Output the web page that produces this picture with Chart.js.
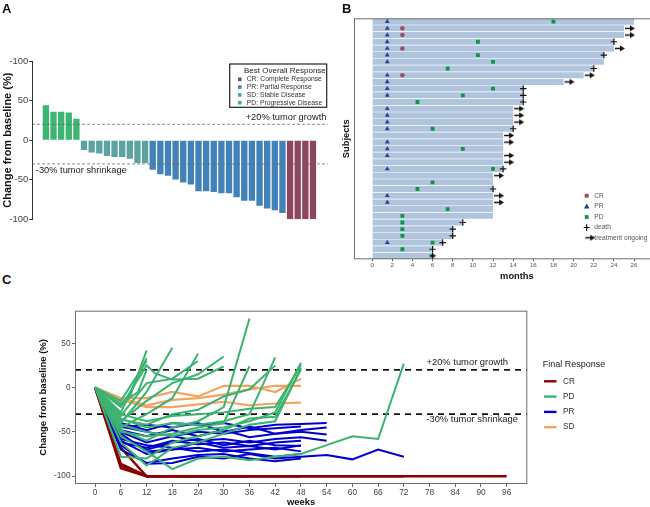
<!DOCTYPE html>
<html>
<head>
<meta charset="utf-8">
<title>Response panels</title>
<script src="https://cdn.jsdelivr.net/npm/chart.js@4.4.1/dist/chart.umd.min.js"></script>
<style>
  html, body { margin: 0; padding: 0; background: #fff; }
  #page { position: relative; width: 650px; height: 507px; overflow: hidden; background: #fff; }
  #page canvas { position: absolute; }
  .panel-tag { position: absolute; font: bold 13px "Liberation Sans", Arial, sans-serif; color: #111; line-height: 15px; }
</style>
</head>
<body>
<div id="page">
  <canvas id="waterfallChart" width="340" height="240" style="left:0px;top:0px"></canvas>
  <canvas id="swimmerChart" width="350" height="292" style="left:335px;top:0px"></canvas>
  <canvas id="spiderChart" width="650" height="218" style="left:0px;top:290px"></canvas>
  <div class="panel-tag" style="left:2px;top:1px">A</div>
  <div class="panel-tag" style="left:342px;top:1px">B</div>
  <div class="panel-tag" style="left:2px;top:272px">C</div>
</div>
<script>
// ---- panel A: best change from baseline per patient
const waterfallChange = [44, 36, 36, 35, 27,
  -12.6, -15.5, -16.8, -20, -21.4, -21.4, -23.5, -29, -29,
  -37.4, -43, -45, -49.6, -53.4, -56, -64.7, -64.7, -65.5, -67, -67, -72, -76.5, -76.5, -83, -86.5, -88.7, -92,
  -100, -100, -100, -100];
const waterfallResponse = ['PD', 'PD', 'PD', 'PD', 'PD',
  'SD', 'SD', 'SD', 'SD', 'SD', 'SD', 'SD', 'SD', 'SD',
  'PR', 'PR', 'PR', 'PR', 'PR', 'PR', 'PR', 'PR', 'PR', 'PR', 'PR', 'PR', 'PR', 'PR', 'PR', 'PR', 'PR', 'PR',
  'CR', 'CR', 'CR', 'CR'];
const waterfallTicks = [-100, -50, 0, 50, 100];
const bestResponseLabels = ['CR: Complete Response', 'PR: Partial Response', 'SD: Stable Disease', 'PD: Progressive Disease'];

// ---- panel B: time on study (months) per subject, top row first
const subjectMonths = [26, 25, 25, 24, 24, 23, 23, 22, 21, 19, 15, 15, 15, 14, 14, 14, 14, 13, 13, 13, 13, 13, 13,
  12, 12, 12, 12, 12, 12, 12, 9, 8, 8, 7, 6, 6];
const prRows = [1, 2, 3, 4, 5, 6, 7, 9, 10, 11, 12, 14, 15, 16, 17, 19, 20, 21, 23, 27, 28, 34];
const prMonths = [1.5, 1.5, 1.5, 1.5, 1.5, 1.5, 1.5, 1.5, 1.5, 1.5, 1.5, 1.5, 1.5, 1.5, 1.5, 1.5, 1.5, 1.5, 1.5, 1.5, 1.5, 1.5];
const crRows = [2, 3, 5, 9];
const crMonths = [3, 3, 3, 3];
const pdRows = [1, 4, 6, 7, 8, 11, 12, 13, 17, 20, 23, 25, 26, 29, 30, 31, 32, 33, 34, 35, 36];
const pdMonths = [18, 10.5, 10.5, 12, 7.5, 12, 9, 4.5, 6, 9, 12, 6, 4.5, 7.5, 3, 3, 3, 3, 6, 3, 6];
const deathRows = [4, 6, 8, 11, 12, 13, 17, 23, 26, 31, 32, 33, 34, 35, 36];
const deathMonths = [24, 23, 22, 15, 15, 15, 14, 13, 12, 9, 8, 8, 7, 6, 6];
const ongoingRows = [2, 3, 5, 9, 10, 14, 15, 16, 18, 19, 21, 22, 24, 27, 28];
const ongoingMonths = [25, 25, 24, 21, 19, 14, 14, 14, 13, 13, 13, 13, 12, 12, 12];
const monthTicks = [0, 2, 4, 6, 8, 10, 12, 14, 16, 18, 20, 22, 24, 26];

// ---- panel C: change from baseline (%) over weeks, [week, change]
const crLines = [
  [[0, 0], [6, -88], [12, -100], [96, -100]],
  [[0, 0], [6, -91], [12, -100], [48, -100]],
  [[0, 0], [6, -68], [12, -100], [72, -100]],
  [[0, 0], [6, -86], [12, -100], [36, -100]]
];
const pdLines = [
  [[0, 0], [6, -20], [8, -12], [12, 42]],
  [[0, 0], [6, -28], [12, 33]],
  [[0, 0], [6, -22], [12, 25], [14, 16], [18, 9], [24, 10], [30, 24]],
  [[0, 0], [6, -40], [12, -5], [18, 45]],
  [[0, 0], [6, -32], [12, 5], [18, 10], [24, 30]],
  [[0, 0], [6, -45], [12, -30], [18, -12], [24, 38]],
  [[0, 0], [6, -38], [12, -15], [18, 5], [24, 15], [30, 35]],
  [[0, 0], [6, -48], [12, -60], [18, -45], [24, -38], [30, -22], [36, 78]],
  [[0, 0], [6, -35], [12, -45], [18, -40], [24, -42], [30, -38], [36, -30], [42, 34]],
  [[0, 0], [6, -42], [12, -50], [18, -55], [24, -48], [30, -45], [36, -38], [42, -28], [48, 28]],
  [[0, 0], [6, -30], [12, -38], [18, -32], [24, -30], [30, -28], [36, -24], [42, -22], [48, 25]],
  [[0, 0], [6, -62], [12, -88], [18, -68], [24, -62], [30, -52], [36, -42], [42, -38], [48, 22]],
  [[0, 0], [6, -50], [12, -55], [18, -52], [24, -45], [30, -40], [36, 24]],
  [[0, 0], [6, -36], [12, -42], [18, -30], [24, -25], [30, -10], [36, -2], [42, 25]],
  [[0, 0], [6, -78], [12, -80], [18, -62], [24, -55], [30, -48], [36, -35], [42, -33], [48, 20]],
  [[0, 0], [6, -15], [12, 30]],
  [[0, 0], [6, -18], [10, -5], [12, 20]],
  [[0, 0], [6, -55], [12, -72], [18, -92], [24, -80], [30, -78], [36, -82], [42, -78], [48, -75], [54, -65], [60, -55], [66, -58], [72, 27]]
];
const prLines = [
  [[0, 0], [6, -40], [12, -48], [18, -40], [24, -42], [30, -40], [36, -46], [42, -42], [48, -41], [54, -40]],
  [[0, 0], [6, -45], [12, -42], [18, -45], [24, -40], [30, -50], [36, -44], [42, -52], [48, -48], [54, -45]],
  [[0, 0], [6, -48], [12, -55], [18, -48], [24, -55], [30, -48], [36, -56], [42, -52], [48, -50], [54, -53]],
  [[0, 0], [6, -50], [12, -62], [18, -55], [24, -60], [30, -58], [36, -62], [42, -58], [48, -56], [54, -60]],
  [[0, 0], [6, -55], [12, -70], [18, -62], [24, -58], [30, -65], [36, -60], [42, -65], [48, -66]],
  [[0, 0], [6, -60], [12, -75], [18, -70], [24, -68], [30, -72], [36, -70], [42, -68], [48, -72]],
  [[0, 0], [6, -65], [12, -86], [18, -85], [24, -78], [30, -80], [36, -75], [42, -80], [48, -78], [54, -76], [60, -81], [66, -70], [72, -78]],
  [[0, 0], [6, -52], [12, -72], [18, -70], [24, -62], [30, -68], [36, -66], [42, -70], [48, -65]],
  [[0, 0], [6, -62], [12, -68], [18, -60], [24, -64], [30, -62], [36, -66], [42, -62], [48, -60]],
  [[0, 0], [6, -58], [12, -65], [18, -68], [24, -72], [30, -70], [36, -74], [42, -78], [48, -75]],
  [[0, 0], [6, -70], [12, -85], [18, -80], [24, -76], [30, -75], [36, -80], [42, -83], [48, -80]],
  [[0, 0], [6, -44], [12, -50], [18, -55], [24, -50], [30, -52], [36, -48], [42, -46], [48, -44]]
];
const sdLines = [
  [[0, 0], [6, -12], [12, -12], [18, -5], [24, -10], [30, 2], [36, 2], [42, -5], [48, 10]],
  [[0, 0], [6, -12], [12, -20], [18, -14], [24, -12], [30, -8], [36, -2], [42, 2], [48, 2]],
  [[0, 0], [6, -14], [12, -22], [18, -22], [24, -19], [30, -16], [36, -20], [42, -18], [48, -17]]
];
const weekTicks = [0, 6, 12, 18, 24, 30, 36, 42, 48, 54, 60, 66, 72, 78, 84, 90, 96];
const spiderTicks = [-100, -50, 0, 50];
const finalResponseLabels = ['CR', 'PD', 'PR', 'SD'];
const growthCut = 20;
const shrinkCut = -30;

const FONT = '"Liberation Sans", Arial, sans-serif';
Chart.defaults.font.family = FONT;
Chart.defaults.animation = false;

const waterfallColors = { CR: '#8c4660', PR: '#4282b8', SD: '#5ba3a0', PD: '#3db575' };
const spiderColors = { CR: '#8b0000', PD: '#3cb371', PR: '#0000cd', SD: '#f4a460' };
const marker = { CR: '#9c5068', PR: '#2b3f9a', PD: '#0a9648' };

//draw a plain rectangle round the plot area
const panelBox = {
  id: 'panelBox',
  afterDraw(chart) {
    const a = chart.chartArea, ctx = chart.ctx;
    ctx.save();
    ctx.strokeStyle = '#6e6e6e';
    ctx.lineWidth = 1;
    ctx.strokeRect(a.left + 0.5, a.top + 0.5, a.right - a.left - 1, a.bottom - a.top - 1);
    ctx.restore();
  }
};

// ================= A: waterfall =================
const waterfallPlugin = {
  id: 'waterfallText',
  afterDraw(chart) {
    const ctx = chart.ctx, a = chart.chartArea, y = chart.scales.y;
    ctx.save();
    ctx.fillStyle = '#222';
    ctx.textBaseline = 'middle';
    ctx.font = '9.3px ' + FONT;
    ctx.textAlign = 'right';
    ctx.fillText('+20% tumor growth', a.right - 1.5, y.getPixelForValue(growthCut) - 6.5);
    ctx.textAlign = 'left';
    ctx.fillText('-30% tumor shrinkage', a.left + 3.5, y.getPixelForValue(shrinkCut) + 6.3);

    // legend box
    const lx = a.right - 98.3, ly = a.top + 3;
    ctx.fillStyle = '#fff';
    ctx.fillRect(lx, ly, 97, 43.3);
    ctx.strokeStyle = '#222';
    ctx.lineWidth = 1.2;
    ctx.strokeRect(lx, ly, 97, 43.3);
    ctx.fillStyle = '#222';
    ctx.font = '8px ' + FONT;
    ctx.fillText('Best Overall Response', lx + 14.3, ly + 6.3);
    ctx.font = '6.8px ' + FONT;
    ['CR', 'PR', 'SD', 'PD'].forEach((k, i) => {
      const ry = ly + 15.3 + i * 7.8;
      ctx.fillStyle = waterfallColors[k];
      ctx.fillRect(lx + 8.3, ry - 1.8, 3.6, 3.6);
      ctx.fillStyle = '#333';
      ctx.fillText(bestResponseLabels[i], lx + 17, ry);
    });
    ctx.restore();
  }
};

const waterfallX = { min: -0.78, max: 37.97 };
new Chart(document.getElementById('waterfallChart'), {
  type: 'bar',
  data: {
    datasets: [
      {
        type: 'line',
        data: [{ x: waterfallX.min, y: growthCut }, { x: waterfallX.max, y: growthCut }],
        borderColor: '#666', borderWidth: 0.9, borderDash: [2.5, 2.5], pointRadius: 0, order: 1
      },
      {
        type: 'line',
        data: [{ x: waterfallX.min, y: shrinkCut }, { x: waterfallX.max, y: shrinkCut }],
        borderColor: '#666', borderWidth: 0.9, borderDash: [2.5, 2.5], pointRadius: 0, order: 1
      },
      {
        type: 'bar',
        data: waterfallChange.map((v, i) => ({ x: i + 1, y: v })),
        backgroundColor: waterfallResponse.map(r => waterfallColors[r]),
        barPercentage: 0.83,
        categoryPercentage: 1,
        order: 2
      }
    ]
  },
  options: {
    responsive: false,
    devicePixelRatio: 1,
    layout: { padding: { left: 0, top: 61, right: 12, bottom: 20.7 } },
    plugins: { legend: { display: false }, tooltip: { enabled: false } },
    scales: {
      x: { type: 'linear', min: waterfallX.min, max: waterfallX.max, offset: false, display: false },
      y: {
        type: 'linear', min: -100, max: 100,
        afterBuildTicks: s => { s.ticks = waterfallTicks.map(v => ({ value: v })); },
        afterFit: s => { s.width = 32.3; },
        ticks: {
          color: '#444', font: { size: 9.5 }, padding: 1,
          callback: v => (v === 100 ? '-100' : String(v))
        },
        grid: { drawOnChartArea: false, tickLength: 3, color: '#333' },
        border: { display: true, color: '#333', width: 1 },
        title: { display: true, text: 'Change from baseline (%)', color: '#111', font: { size: 11, weight: 'bold' }, padding: { top: 1, bottom: 0 } }
      }
    }
  },
  plugins: [waterfallPlugin]
});

// ================= B: swimmer =================
function arrowImage() {
  // transparent left half so the point sits at the bar end and the arrow starts just after it
  const c = document.createElement('canvas');
  c.width = 24; c.height = 7;
  const g = c.getContext('2d');
  g.strokeStyle = '#111';
  g.lineWidth = 1.5;
  g.beginPath(); g.moveTo(13, 3.5); g.lineTo(19, 3.5); g.stroke();
  g.fillStyle = '#111';
  g.beginPath(); g.moveTo(18, 0.5); g.lineTo(23, 3.5); g.lineTo(18, 6.5); g.closePath(); g.fill();
  return c;
}
const ongoingArrow = arrowImage();

const swimmerLegend = {
  id: 'swimmerLegend',
  afterDraw(chart) {
    const ctx = chart.ctx;
    const mx = 251.7, tx = 259.3;
    const ys = [195.7, 206.4, 217, 227.5, 237.8];
    ctx.save();
    ctx.fillStyle = marker.CR;
    ctx.beginPath(); ctx.arc(mx, ys[0], 2.3, 0, Math.PI * 2); ctx.fill();
    ctx.fillStyle = marker.PR;
    ctx.beginPath(); ctx.moveTo(mx, ys[1] - 2.8); ctx.lineTo(mx + 2.8, ys[1] + 2); ctx.lineTo(mx - 2.8, ys[1] + 2); ctx.closePath(); ctx.fill();
    ctx.fillStyle = marker.PD;
    ctx.fillRect(mx - 1.9, ys[2] - 1.9, 3.8, 3.8);
    ctx.strokeStyle = '#111'; ctx.lineWidth = 1.2;
    ctx.beginPath(); ctx.moveTo(mx - 3, ys[3]); ctx.lineTo(mx + 3, ys[3]); ctx.moveTo(mx, ys[3] - 3.2); ctx.lineTo(mx, ys[3] + 3.2); ctx.stroke();
    ctx.drawImage(ongoingArrow, mx - 14.5, ys[4] - 3.5);
    ctx.fillStyle = '#555';
    ctx.font = '6.6px ' + FONT;
    ctx.textBaseline = 'middle';
    ['CR', 'PR', 'PD', 'death', 'treatment ongoing'].forEach((t, i) => ctx.fillText(t, tx, ys[i]));
    ctx.restore();
  }
};

const pointsOf = (rows, months) => rows.map((r, i) => ({ x: months[i], y: r }));

new Chart(document.getElementById('swimmerChart'), {
  type: 'bar',
  data: {
    datasets: [
      {
        type: 'bar',
        indexAxis: 'y',
        data: subjectMonths.map((m, i) => ({ x: [0, m], y: i + 1 })),
        backgroundColor: '#b0c4de',
        barPercentage: 0.9,
        categoryPercentage: 1,
        order: 5
      },
      { type: 'scatter', data: pointsOf(prRows, prMonths), pointStyle: 'triangle', pointRadius: 2.8, backgroundColor: marker.PR, borderWidth: 0, order: 2 },
      { type: 'scatter', data: pointsOf(crRows, crMonths), pointStyle: 'circle', pointRadius: 2.3, backgroundColor: marker.CR, borderWidth: 0, order: 2 },
      { type: 'scatter', data: pointsOf(pdRows, pdMonths), pointStyle: 'rect', pointRadius: 2.7, backgroundColor: marker.PD, borderWidth: 0, order: 2 },
      { type: 'scatter', data: pointsOf(deathRows, deathMonths), pointStyle: 'cross', pointRadius: 3.2, borderColor: '#111', borderWidth: 1.2, order: 1 },
      { type: 'scatter', data: pointsOf(ongoingRows, ongoingMonths), pointStyle: ongoingArrow, pointRadius: 4, order: 1 }
    ]
  },
  options: {
    responsive: false,
    devicePixelRatio: 1,
    indexAxis: 'y',
    layout: { padding: { left: 6, top: 18.3, right: 3, bottom: 6.7 } },
    plugins: { legend: { display: false }, tooltip: { enabled: false } },
    scales: {
      x: {
        type: 'linear', min: -1.8, max: 30.54, offset: false,
        afterBuildTicks: s => { s.ticks = monthTicks.map(v => ({ value: v })); },
        afterFit: s => { s.height = 26; },
        ticks: { color: '#555', font: { size: 6.2 }, padding: 0, autoSkip: false, maxRotation: 0 },
        grid: { drawOnChartArea: false, tickLength: 2, color: '#666' },
        border: { display: false },
        title: { display: true, text: 'months', color: '#111', font: { size: 9.3, weight: 'bold' }, padding: { top: 0, bottom: 3.7 } }
      },
      y: {
        type: 'linear', min: 0.5, max: 36.5, reverse: true, offset: false,
        afterFit: s => { s.width = 13; },
        ticks: { display: false },
        grid: { display: false },
        border: { display: false },
        title: { display: true, text: 'Subjects', color: '#111', font: { size: 9.3, weight: 'bold' }, padding: { top: 0, bottom: 0 } }
      }
    }
  },
  plugins: [panelBox, swimmerLegend]
});

// ================= C: spider =================
const spiderX = { min: -4.7, max: 100.8 };
const spiderGroups = [
  { key: 'PD', lines: pdLines, width: 2 },
  { key: 'PR', lines: prLines, width: 2 },
  { key: 'SD', lines: sdLines, width: 2.2 },
  { key: 'CR', lines: crLines, width: 2.4 }
];
const spiderSets = [];
spiderGroups.forEach(g => {
  g.lines.forEach(line => {
    spiderSets.push({
      type: 'line',
      data: line.map(p => ({ x: p[0], y: p[1] })),
      borderColor: spiderColors[g.key],
      borderWidth: g.width,
      pointRadius: 0,
      tension: 0,
      fill: false
    });
  });
});
[growthCut, shrinkCut].forEach(cut => {
  spiderSets.push({
    type: 'line',
    data: [{ x: spiderX.min, y: cut }, { x: spiderX.max, y: cut }],
    borderColor: '#111', borderWidth: 1.6, borderDash: [6, 5], pointRadius: 0
  });
});

const spiderText = {
  id: 'spiderText',
  afterDraw(chart) {
    const ctx = chart.ctx, a = chart.chartArea, y = chart.scales.y;
    ctx.save();
    ctx.fillStyle = '#222';
    ctx.textBaseline = 'middle';
    ctx.textAlign = 'right';
    ctx.font = '9.4px ' + FONT;
    ctx.fillText('+20% tumor growth', a.right - 19.3, y.getPixelForValue(growthCut) - 7.2);
    ctx.fillText('-30% tumor shrinkage', a.right - 9.3, y.getPixelForValue(shrinkCut) + 5.7);

    // legend for final response
    ctx.textAlign = 'left';
    ctx.font = '9px ' + FONT;
    ctx.fillText('Final Response', 542.7, 74.3);
    ctx.font = '8.2px ' + FONT;
    finalResponseLabels.forEach((k, i) => {
      const ry = 91.3 + i * 15.3;
      ctx.strokeStyle = spiderColors[k];
      ctx.lineWidth = 2.4;
      ctx.beginPath(); ctx.moveTo(544, ry); ctx.lineTo(556.5, ry); ctx.stroke();
      ctx.fillStyle = '#333';
      ctx.fillText(k, 563, ry);
    });
    ctx.restore();
  }
};

new Chart(document.getElementById('spiderChart'), {
  type: 'line',
  data: { datasets: spiderSets },
  options: {
    responsive: false,
    devicePixelRatio: 1,
    layout: { padding: { left: 0, top: 20.7, right: 122.7, bottom: 0 } },
    plugins: { legend: { display: false }, tooltip: { enabled: false } },
    scales: {
      x: {
        type: 'linear', min: spiderX.min, max: spiderX.max,
        afterBuildTicks: s => { s.ticks = weekTicks.map(v => ({ value: v })); },
        afterFit: s => { s.height = 24; },
        ticks: { color: '#444', font: { size: 8.3 }, padding: 1, autoSkip: false, maxRotation: 0 },
        grid: { drawOnChartArea: false, tickLength: 3, color: '#666' },
        border: { display: false },
        title: { display: true, text: 'weeks', color: '#111', font: { size: 9.4, weight: 'bold' }, padding: { top: 0, bottom: 0 } }
      },
      y: {
        type: 'linear', min: -108.8, max: 86.7,
        afterBuildTicks: s => { s.ticks = spiderTicks.map(v => ({ value: v })); },
        afterFit: s => { s.width = 75; },
        ticks: { color: '#444', font: { size: 8.3 }, padding: 1.5 },
        grid: { drawOnChartArea: false, tickLength: 3, color: '#666' },
        border: { display: false },
        title: { display: true, text: 'Change from baseline (%)', color: '#111', font: { size: 9.5, weight: 'bold' }, padding: { top: 38, bottom: 0 } }
      }
    }
  },
  plugins: [panelBox, spiderText]
});
</script>
</body>
</html>
